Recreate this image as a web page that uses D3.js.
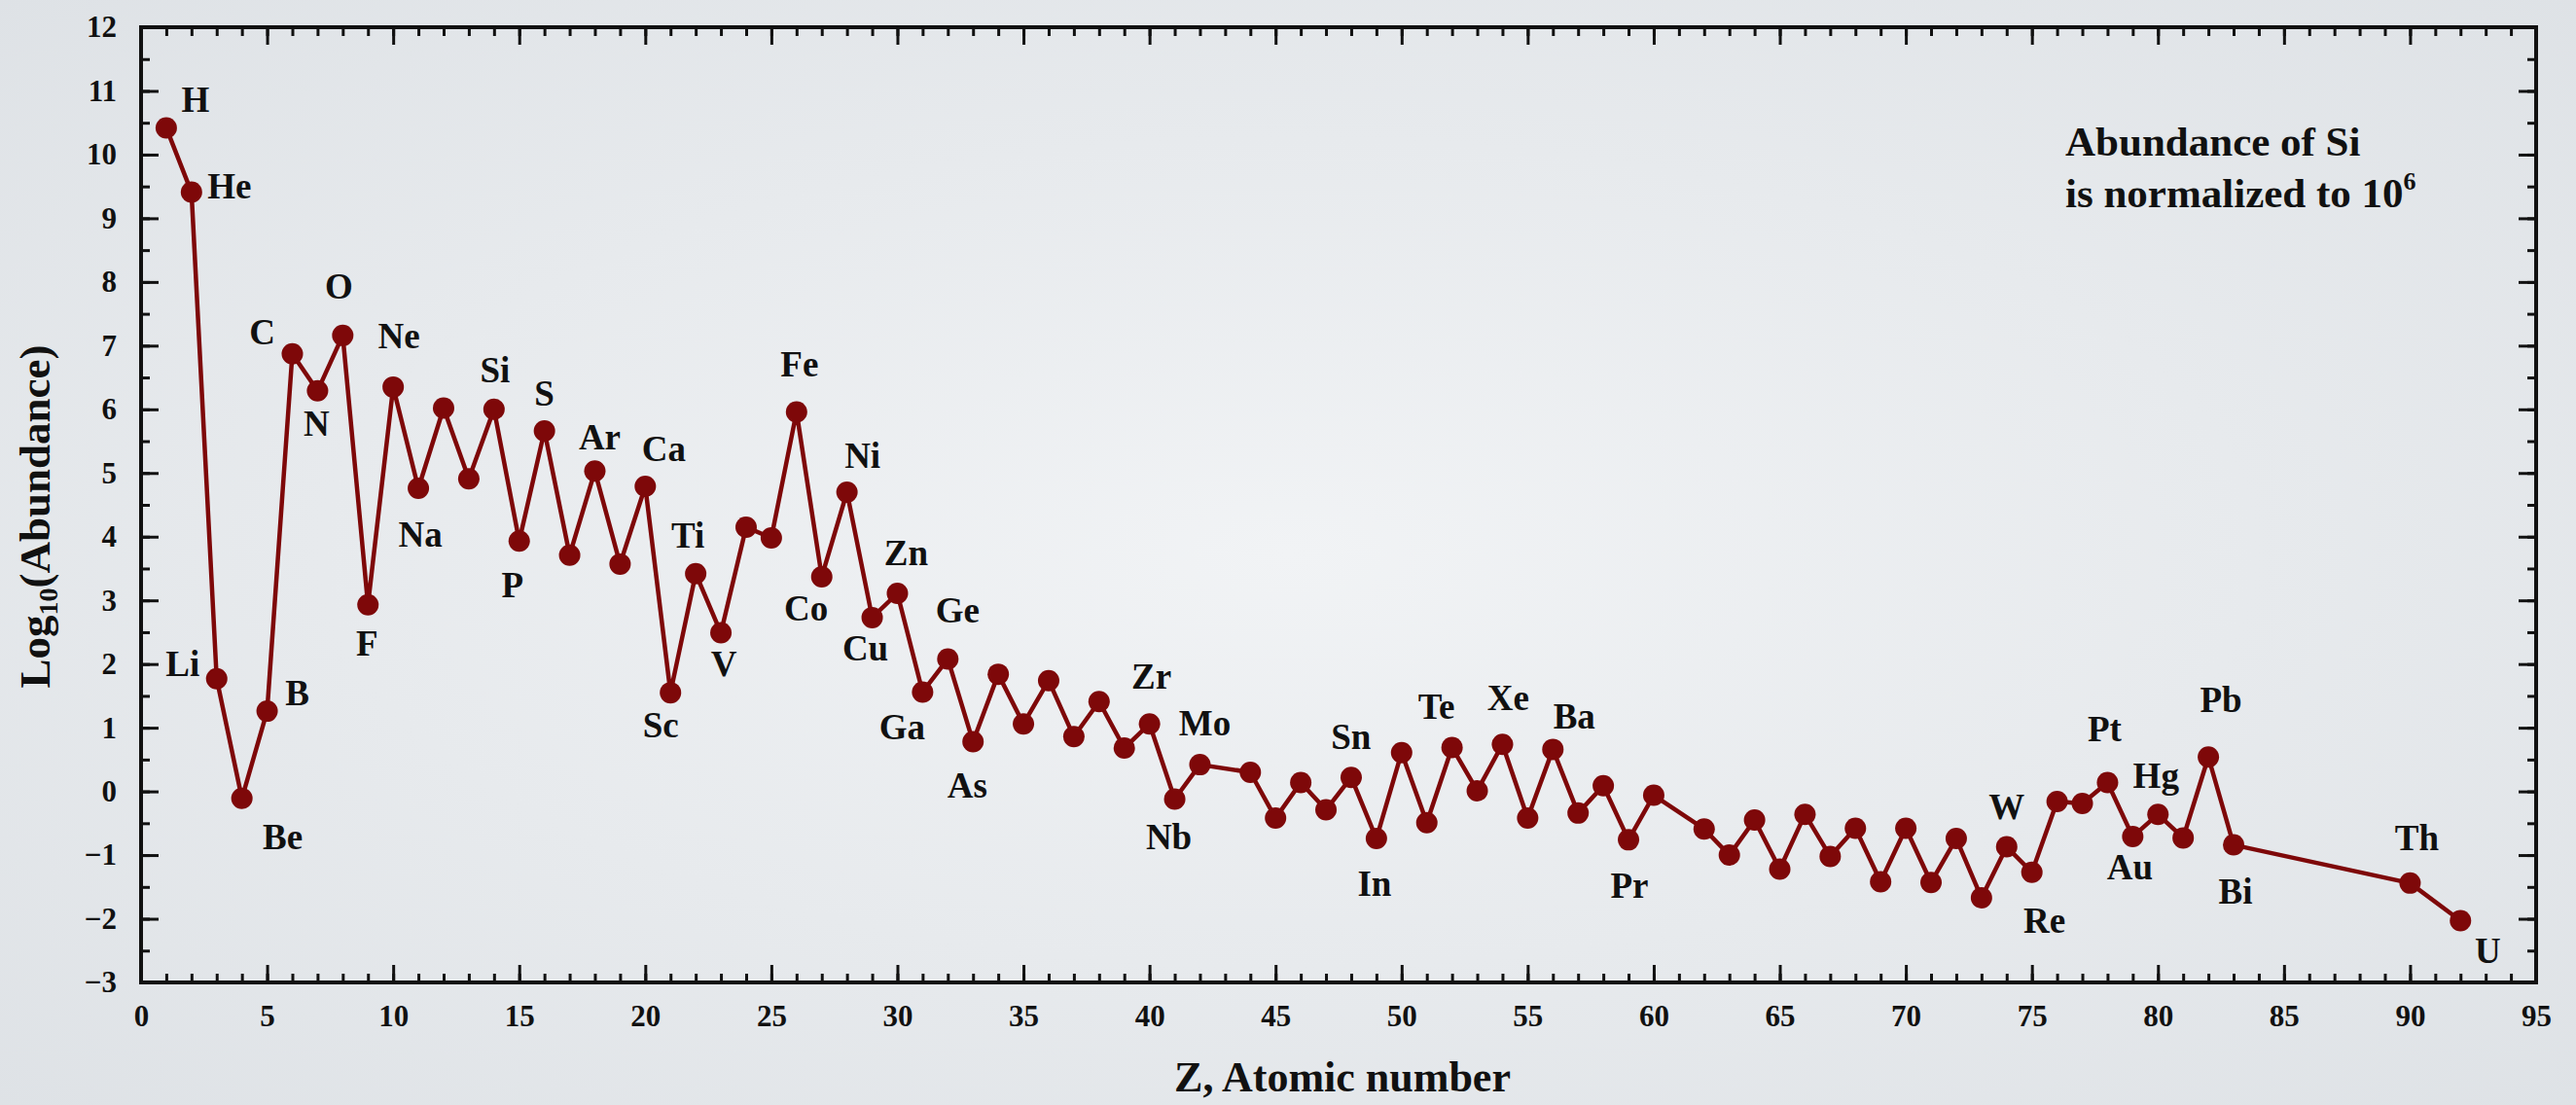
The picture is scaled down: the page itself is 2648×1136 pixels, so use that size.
<!DOCTYPE html>
<html>
<head>
<meta charset="utf-8">
<script src="https://cdn.jsdelivr.net/npm/d3@7"></script>
<style>
  body { margin: 0; background: #e6e9ec; }
  svg { display: block; }
  text { font-family: "Liberation Serif", "Times New Roman", serif; font-weight: bold; fill: #111; }
</style>
</head>
<body>
<div id="chart"></div>
<script>
// atomic number and log10 abundance (Si = 10^6)
const atomicNumbers = [
  1, 2, 3, 4, 5, 6, 7, 8, 9, 10, 11, 12, 13, 14, 15, 16, 17, 18, 19, 20,
  21, 22, 23, 24, 25, 26, 27, 28, 29, 30, 31, 32, 33, 34, 35, 36, 37, 38, 39, 40,
  41, 42, 44, 45, 46, 47, 48, 49, 50, 51, 52, 53, 54, 55, 56, 57, 58, 59, 60,
  62, 63, 64, 65, 66, 67, 68, 69, 70, 71, 72, 73, 74, 75, 76, 77, 78, 79, 80,
  81, 82, 83, 90, 92
]
const logAbundance = [
  10.42, 9.41, 1.77, -0.11, 1.26, 6.87, 6.29, 7.16, 2.93, 6.35, 4.76, 6.02, 4.91, 6.00, 3.93, 5.66, 3.71, 5.03, 3.57, 4.79,
  1.55, 3.42, 2.49, 4.15, 3.98, 5.96, 3.37, 4.70, 2.73, 3.11, 1.56, 2.08, 0.78, 1.84, 1.06, 1.74, 0.86, 1.41, 0.68, 1.06,
  -0.12, 0.42, 0.30, -0.42, 0.14, -0.29, 0.22, -0.74, 0.61, -0.49, 0.69, 0.01, 0.74, -0.42, 0.66, -0.34, 0.09, -0.76, -0.06,
  -0.59, -1.00, -0.45, -1.22, -0.36, -1.02, -0.58, -1.42, -0.58, -1.43, -0.74, -1.67, -0.87, -1.27, -0.16, -0.19, 0.14, -0.71, -0.36,
  -0.73, 0.54, -0.84, -1.44, -2.03
]

// element names written on the chart and the Z they belong to
const labelSymbols = ['H', 'He', 'Li', 'Be', 'B', 'C', 'N', 'O', 'F', 'Ne', 'Na', 'Si', 'P', 'S', 'Ar', 'Ca',
  'Sc', 'Ti', 'V', 'Fe', 'Co', 'Ni', 'Cu', 'Zn', 'Ga', 'Ge', 'As', 'Zr', 'Nb', 'Mo', 'Sn', 'In', 'Te', 'Xe',
  'Ba', 'Pr', 'W', 'Re', 'Pt', 'Au', 'Hg', 'Pb', 'Bi', 'Th', 'U']
const labelZ = [1, 2, 3, 4, 5, 6, 7, 8, 9, 10, 11, 14, 15, 16, 18, 20,
  21, 22, 23, 26, 27, 28, 29, 30, 31, 32, 33, 40, 41, 42, 50, 49, 52, 54,
  56, 59, 74, 75, 78, 79, 80, 82, 83, 90, 92]

const xTicks = d3.range(0, 96, 5)
const yTicks = d3.range(-3, 13, 1)

// where each name sits relative to its dot (px, centre of the text)
const labelOffset = {
  H: [30, -28], He: [39, -6], Li: [-35, -15], Be: [42, 40], B: [31, -18], C: [-31, -22], N: [-1, 34],
  O: [-4, -50], F: [-1, 40], Ne: [6, -52], Na: [2, 48], Si: [1, -40], P: [-7, 46], S: [0, -38],
  Ar: [5, -34], Ca: [19, -38], Sc: [-10, 34], Ti: [-8, -39], V: [3, 32], Fe: [3, -48], Co: [-16, 33],
  Ni: [16, -37], Cu: [-7, 32], Zn: [9, -41], Ga: [-21, 37], Ge: [10, -49], As: [-6, 45], Zr: [2, -48],
  Nb: [-6, 40], Mo: [5, -42], Sn: [-52, -16], In: [-2, 47], Te: [-16, -41], Xe: [6, -47], Ba: [22, -33],
  Pr: [1, 48], W: [0, -41], Re: [13, 50], Pt: [-3, -54], Au: [-3, 32], Hg: [-2, -39], Pb: [13, -58],
  Bi: [2, 48], Th: [7, -46], U: [28, 32]
}

const width = 2648
const height = 1136
const plot = { left: 145, right: 2607, top: 28, bottom: 1010 }
const red = '#7e0809'
const serif = '"Liberation Serif", "Times New Roman", serif'

const points = atomicNumbers.map((z, i) => ({ z: z, v: logAbundance[i] }))

const x = d3.scaleLinear().domain([0, 95]).range([plot.left, plot.right])
const y = d3.scaleLinear().domain([-3, 12]).range([plot.bottom, plot.top])

const svg = d3.select('#chart')
  .append('svg')
  .attr('width', width)
  .attr('height', height)
  .style('font-family', serif)

const grad = svg.append('defs').append('radialGradient')
  .attr('id', 'bg')
  .attr('cx', '50%').attr('cy', '50%').attr('r', '75%')
grad.append('stop').attr('offset', '0%').attr('stop-color', '#f1f3f5')
grad.append('stop').attr('offset', '100%').attr('stop-color', '#dde1e5')

svg.append('rect')
  .attr('width', width)
  .attr('height', height)
  .attr('fill', 'url(#bg)')

// axes: ticks point inwards on all four sides
function styleAxis (g) {
  g.attr('font-family', null).attr('font-size', null)
  g.select('.domain').remove()
  g.selectAll('.tick line').attr('stroke', '#111').attr('stroke-width', 3)
  g.selectAll('.tick text')
    .attr('fill', '#111')
    .style('font-size', '31px')
    .style('font-family', serif)
    .style('font-weight', 'bold')
}

const xMinor = d3.range(0, 96, 1)
const yMinor = d3.range(-3, 12.01, 0.5)

svg.append('g')
  .attr('transform', `translate(0,${plot.bottom})`)
  .call(d3.axisBottom(x).tickValues(xMinor).tickSize(-9).tickFormat(''))
  .call(styleAxis)
svg.append('g')
  .attr('transform', `translate(0,${plot.bottom})`)
  .call(d3.axisBottom(x).tickValues(xTicks).tickSize(-18).tickPadding(23).tickFormat(d3.format('d')))
  .call(styleAxis)
svg.append('g')
  .attr('transform', `translate(0,${plot.top})`)
  .call(d3.axisTop(x).tickValues(xMinor).tickSize(-9).tickFormat(''))
  .call(styleAxis)
svg.append('g')
  .attr('transform', `translate(0,${plot.top})`)
  .call(d3.axisTop(x).tickValues(xTicks).tickSize(-18).tickFormat(''))
  .call(styleAxis)

svg.append('g')
  .attr('transform', `translate(${plot.left},0)`)
  .call(d3.axisLeft(y).tickValues(yMinor).tickSize(-9).tickFormat(''))
  .call(styleAxis)
svg.append('g')
  .attr('transform', `translate(${plot.left},0)`)
  .call(d3.axisLeft(y).tickValues(yTicks).tickSize(-18).tickPadding(25).tickFormat(d3.format('d')))
  .call(styleAxis)
svg.append('g')
  .attr('transform', `translate(${plot.right},0)`)
  .call(d3.axisRight(y).tickValues(yMinor).tickSize(-9).tickFormat(''))
  .call(styleAxis)
svg.append('g')
  .attr('transform', `translate(${plot.right},0)`)
  .call(d3.axisRight(y).tickValues(yTicks).tickSize(-18).tickFormat(''))
  .call(styleAxis)

svg.append('rect')
  .attr('x', plot.left)
  .attr('y', plot.top)
  .attr('width', plot.right - plot.left)
  .attr('height', plot.bottom - plot.top)
  .attr('fill', 'none')
  .attr('stroke', '#111')
  .attr('stroke-width', 4)

// the abundance line and dots
const line = d3.line()
  .x(d => x(d.z))
  .y(d => y(d.v))

svg.append('path')
  .datum(points)
  .attr('d', line)
  .attr('fill', 'none')
  .attr('stroke', red)
  .attr('stroke-width', 4.5)
  .attr('stroke-linejoin', 'round')

svg.append('g')
  .selectAll('circle')
  .data(points)
  .enter()
  .append('circle')
  .attr('cx', d => x(d.z))
  .attr('cy', d => y(d.v))
  .attr('r', 11)
  .attr('fill', red)

// element names
const labels = labelSymbols.map((s, i) => {
  const p = points.find(d => d.z === labelZ[i])
  return { text: s, z: p.z, v: p.v }
})

svg.append('g')
  .selectAll('text')
  .data(labels)
  .enter()
  .append('text')
  .attr('x', d => x(d.z) + labelOffset[d.text][0])
  .attr('y', d => y(d.v) + labelOffset[d.text][1] + 12)
  .attr('text-anchor', 'middle')
  .style('font-size', '37px')
  .text(d => d.text)

// axis titles
svg.append('text')
  .attr('x', (plot.left + plot.right) / 2 + 4)
  .attr('y', 1122)
  .attr('text-anchor', 'middle')
  .style('font-size', '44px')
  .text('Z, Atomic number')

const yTitle = svg.append('text')
  .attr('transform', `translate(51,${(plot.top + plot.bottom) / 2 + 12}) rotate(-90)`)
  .attr('text-anchor', 'middle')
  .style('font-size', '45px')
yTitle.append('tspan').text('Log')
yTitle.append('tspan').text('10').style('font-size', '28px').attr('dy', 8)
yTitle.append('tspan').text('(Abundance)').attr('dy', -8)

// note in the upper right
const note = svg.append('text')
  .attr('x', 2123)
  .attr('y', 160)
  .style('font-size', '43px')
note.append('tspan').text('Abundance of Si')
note.append('tspan').attr('x', 2123).attr('dy', 53).text('is normalized to 10')
note.append('tspan').text('6').style('font-size', '26px').attr('dy', -18)
</script>
</body>
</html>
